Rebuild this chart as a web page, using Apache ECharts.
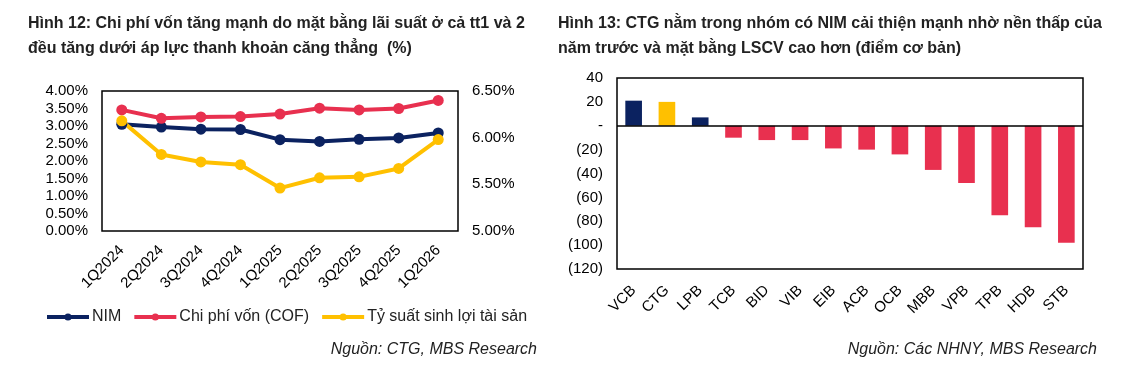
<!DOCTYPE html>
<html>
<head>
<meta charset="utf-8">
<script src="https://cdn.jsdelivr.net/npm/echarts@6/dist/echarts.min.js"></script>
<style>
  html, body { margin: 0; padding: 0; background: #fff; }
  #main { width: 1132px; height: 373px; }
</style>
</head>
<body>
<div id="main"></div>
<script>
// Hinh 12 - quy
var quarters = ['1Q2024','2Q2024','3Q2024','4Q2024','1Q2025','2Q2025','3Q2025','4Q2025','1Q2026'];
var nim = [3.05, 2.97, 2.91, 2.90, 2.61, 2.56, 2.62, 2.66, 2.80];
var cof = [3.46, 3.22, 3.26, 3.27, 3.34, 3.51, 3.46, 3.50, 3.73];
var yieldAsset = [6.18, 5.82, 5.74, 5.71, 5.46, 5.57, 5.58, 5.67, 5.98];

// Hinh 13 - ngan hang
var banks = ['VCB','CTG','LPB','TCB','BID','VIB','EIB','ACB','OCB','MBB','VPB','TPB','HDB','STB'];
var nimChange = [21, 20, 7, -10, -12, -12, -19, -20, -24, -37, -48, -75, -85, -98];

var FONT = '"Liberation Sans", Arial, sans-serif';
var NAVY = '#0b2260', RED = '#e8304f', GOLD = '#ffc000';

var barColor = function(name) {
	if (name == 'CTG') return GOLD;
	if (name == 'VCB' || name == 'LPB') return NAVY;
	return RED;
};

var lineSeries = function(name, data, color, yIdx) {
	return {
		name: name,
		type: 'line',
		xAxisIndex: 0,
		yAxisIndex: yIdx,
		data: data,
		symbol: 'circle',
		symbolSize: 11,
		lineStyle: { width: 4, color: color },
		itemStyle: { color: color }
	};
};

var axisLbl = { color: '#000', fontSize: 15, fontFamily: FONT };
var srcStyle = { fontSize: 16, fontStyle: 'italic', fontWeight: 'normal', color: '#222', fontFamily: FONT };
var titleStyle = { fontSize: 16, fontWeight: 'bold', color: '#222', fontFamily: FONT, lineHeight: 25 };

var chart = echarts.init(document.getElementById('main'));
var option = {
	animation: false,
	textStyle: { fontFamily: FONT },
	title: [
		{
			text: 'Hình 12: Chi phí vốn tăng mạnh do mặt bằng lãi suất ở cả tt1 và 2\nđều tăng dưới áp lực thanh khoản căng thẳng  (%)',
			left: 28, top: 11, padding: [0, 0, 0, 0],
			textStyle: titleStyle
		},
		{
			text: 'Hình 13: CTG nằm trong nhóm có NIM cải thiện mạnh nhờ nền thấp của\nnăm trước và mặt bằng LSCV cao hơn (điểm cơ bản)',
			left: 558, top: 11, padding: [0, 0, 0, 0],
			textStyle: titleStyle
		},
		{
			text: 'Nguồn: CTG, MBS Research',
			right: 595, top: 342, padding: 0,
			textStyle: srcStyle
		},
		{
			text: 'Nguồn: Các NHNY, MBS Research',
			right: 35, top: 342, padding: 0,
			textStyle: srcStyle
		}
	],
	legend: {
		left: 40, top: 304,
		itemWidth: 42, itemHeight: 9, itemGap: 11,
		lineStyle: { width: 4 },
		textStyle: { fontSize: 16, color: '#222', fontFamily: FONT, padding: [0, 0, 0, -2] },
		data: ['NIM', 'Chi phí vốn (COF)', 'Tỷ suất sinh lợi tài sản']
	},
	grid: [
		{ left: 102, top: 91, width: 356, height: 140, show: true, borderColor: '#000', borderWidth: 1.5, backgroundColor: 'transparent' },
		{ left: 617, top: 78, width: 466, height: 191, show: true, borderColor: '#000', borderWidth: 1.5, backgroundColor: 'transparent' }
	],
	xAxis: [
		{
			type: 'category', gridIndex: 0, data: quarters,
			axisLine: { show: false }, axisTick: { show: false },
			axisLabel: { rotate: 45, margin: 17, color: '#000', fontSize: 15, fontFamily: FONT, interval: 0 }
		},
		{
			type: 'category', gridIndex: 1, data: banks,
			axisLine: { show: false }, axisTick: { show: false },
			axisLabel: { rotate: 45, margin: 19, color: '#000', fontSize: 15, fontFamily: FONT, interval: 0 }
		}
	],
	yAxis: [
		{
			type: 'value', gridIndex: 0, min: 0, max: 4, interval: 0.5,
			splitLine: { show: false }, axisLine: { show: false }, axisTick: { show: false },
			axisLabel: Object.assign({ margin: 14, formatter: function(v) { return v.toFixed(2) + '%'; } }, axisLbl)
		},
		{
			type: 'value', gridIndex: 0, min: 5, max: 6.5, interval: 0.5, position: 'right',
			splitLine: { show: false }, axisLine: { show: false }, axisTick: { show: false },
			axisLabel: Object.assign({ margin: 14, formatter: function(v) { return v.toFixed(2) + '%'; } }, axisLbl)
		},
		{
			type: 'value', gridIndex: 1, min: -120, max: 40, interval: 20,
			splitLine: { show: false }, axisLine: { show: false }, axisTick: { show: false },
			axisLabel: Object.assign({
				margin: 14,
				formatter: function(v) {
					if (v == 0) return '-';
					return v < 0 ? '(' + (-v) + ')' : String(v);
				}
			}, axisLbl)
		}
	],
	series: [
		lineSeries('NIM', nim, NAVY, 0),
		lineSeries('Chi phí vốn (COF)', cof, RED, 0),
		lineSeries('Tỷ suất sinh lợi tài sản', yieldAsset, GOLD, 1),
		{
			name: 'NIM change',
			type: 'bar',
			xAxisIndex: 1,
			yAxisIndex: 2,
			barWidth: '50%',
			data: nimChange.map(function(v, i) {
				return { value: v, itemStyle: { color: barColor(banks[i]) } };
			}),
			markLine: {
				silent: true,
				symbol: 'none',
				label: { show: false },
				lineStyle: { color: '#000', width: 1.5, type: 'solid' },
				data: [{ yAxis: 0 }]
			}
		}
	]
};
chart.setOption(option);
</script>
</body>
</html>
